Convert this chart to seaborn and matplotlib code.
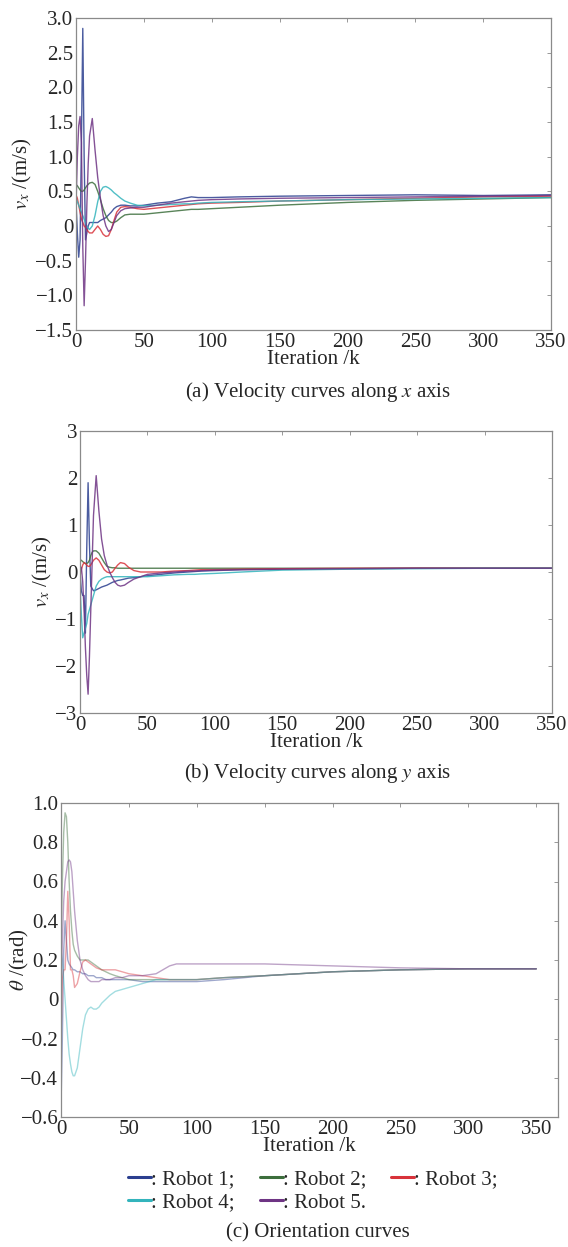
import numpy as np
import pandas as pd
import matplotlib
matplotlib.use("Agg")
import matplotlib.pyplot as plt
from matplotlib.lines import Line2D
import seaborn as sns

# ---------------- data ----------------
ROBOTS = ["Robot 1", "Robot 2", "Robot 3", "Robot 4", "Robot 5"]
COLORS = ["#2b3f8f", "#3c6e3c", "#d8323a", "#33b4bc", "#6e3484"]

K = [0, 1, 2, 3, 4, 5, 6, 7, 8, 9, 10, 12, 14, 16, 18, 20, 22, 24, 26, 28, 30,
     33, 36, 40, 45, 50, 60, 70, 80, 85, 90, 100, 120, 150, 200, 250, 300, 350]

# (a) velocity along x
VX_R1 = [0.35, -0.1, -0.45, -0.2, 1.2, 2.85, 1.0, -0.2, -0.1, 0.0, 0.05, 0.05, 0.05, 0.05, 0.08, 0.1, 0.12, 0.16, 0.2, 0.25, 0.28,
         0.3, 0.3, 0.29, 0.29, 0.3, 0.33, 0.35, 0.4, 0.42, 0.41, 0.41, 0.42, 0.43, 0.44, 0.45, 0.44, 0.45]
VX_R2 = [0.6, 0.58, 0.55, 0.52, 0.5, 0.5, 0.52, 0.55, 0.58, 0.6, 0.62, 0.63, 0.6, 0.5, 0.38, 0.25, 0.15, 0.08, 0.05, 0.05, 0.07,
         0.12, 0.16, 0.17, 0.17, 0.17, 0.19, 0.21, 0.23, 0.24, 0.24, 0.25, 0.27, 0.3, 0.34, 0.37, 0.39, 0.41]
VX_R3 = [0.45, 0.4, 0.3, 0.2, 0.1, 0.05, 0.0, -0.02, -0.05, -0.08, -0.1, -0.1, -0.05, 0.0, -0.05, -0.12, -0.15, -0.14, -0.05, 0.08, 0.2,
         0.27, 0.28, 0.27, 0.25, 0.24, 0.26, 0.28, 0.3, 0.31, 0.32, 0.33, 0.34, 0.36, 0.38, 0.4, 0.42, 0.43]
VX_R4 = [0.4, 0.35, 0.3, 0.25, 0.2, 0.15, 0.1, 0.05, 0.0, -0.03, -0.05, 0.0, 0.15, 0.35, 0.5, 0.56, 0.57, 0.55, 0.52, 0.48, 0.45,
         0.4, 0.36, 0.33, 0.3, 0.29, 0.3, 0.31, 0.32, 0.32, 0.33, 0.34, 0.35, 0.36, 0.38, 0.39, 0.4, 0.41]
VX_R5 = [0.3, 1.0, 1.45, 1.58, 1.2, -0.3, -1.15, -0.5, 0.3, 0.9, 1.3, 1.55, 1.1, 0.7, 0.4, 0.15, 0.0, -0.08, -0.05, 0.05, 0.15,
         0.22, 0.25, 0.26, 0.27, 0.27, 0.3, 0.33, 0.35, 0.36, 0.37, 0.38, 0.39, 0.4, 0.41, 0.42, 0.43, 0.44]

# (b) velocity along y
VY_R1 = [0.0, -0.4, -0.5, -0.5, -1.3, 0.5, 1.9, 0.6, -0.3, -0.35, -0.4, -0.38, -0.35, -0.32, -0.3, -0.28, -0.25, -0.22, -0.2, -0.18, -0.17,
         -0.15, -0.13, -0.12, -0.1, -0.08, -0.05, -0.02, 0.0, 0.01, 0.02, 0.03, 0.05, 0.06, 0.07, 0.08, 0.08, 0.08]
VY_R2 = [0.25, 0.25, 0.22, 0.2, 0.18, 0.18, 0.2, 0.25, 0.35, 0.42, 0.45, 0.45, 0.4, 0.3, 0.2, 0.12, 0.1, 0.09, 0.09, 0.08, 0.08,
         0.08, 0.08, 0.08, 0.08, 0.08, 0.08, 0.08, 0.08, 0.08, 0.08, 0.08, 0.08, 0.08, 0.08, 0.08, 0.08, 0.08]
VY_R3 = [-0.1, 0.05, 0.15, 0.2, 0.18, 0.15, 0.12, 0.12, 0.15, 0.2, 0.25, 0.3, 0.25, 0.15, 0.05, 0.0, -0.02, 0.0, 0.08, 0.15, 0.2,
         0.18, 0.1, 0.03, 0.0, 0.0, 0.0, 0.02, 0.03, 0.04, 0.05, 0.05, 0.06, 0.07, 0.08, 0.08, 0.08, 0.08]
VY_R4 = [-0.3, -0.9, -1.4, -1.3, -1.2, -1.1, -0.9, -0.8, -0.7, -0.6, -0.5, -0.3, -0.2, -0.15, -0.12, -0.1, -0.1, -0.1, -0.1, -0.1, -0.1,
         -0.1, -0.1, -0.1, -0.1, -0.1, -0.08, -0.06, -0.05, -0.05, -0.04, -0.03, 0.0, 0.04, 0.06, 0.07, 0.08, 0.08]
VY_R5 = [0.0, 0.1, -0.2, -0.8, -1.6, -2.2, -2.6, -1.8, -0.8, 0.2, 1.2, 2.05, 1.3, 0.7, 0.35, 0.15, 0.0, -0.12, -0.22, -0.28, -0.3,
         -0.28, -0.22, -0.15, -0.1, -0.05, -0.02, 0.0, 0.02, 0.02, 0.03, 0.04, 0.05, 0.06, 0.07, 0.08, 0.08, 0.08]

# (c) orientation
TH_R1 = [-0.55, -0.2, 0.25, 0.4, 0.3, 0.2, 0.18, 0.17, 0.16, 0.15, 0.15, 0.14, 0.14, 0.13, 0.13, 0.12, 0.12, 0.12, 0.11, 0.11, 0.11,
         0.1, 0.1, 0.1, 0.1, 0.1, 0.09, 0.09, 0.09, 0.09, 0.09, 0.09, 0.1, 0.12, 0.14, 0.15, 0.155, 0.155]
TH_R2 = [0.25, 0.6, 0.85, 0.95, 0.93, 0.8, 0.6, 0.45, 0.35, 0.28, 0.25, 0.22, 0.2, 0.2, 0.2, 0.2, 0.19, 0.18, 0.17, 0.16, 0.15,
         0.14, 0.13, 0.12, 0.11, 0.1, 0.1, 0.1, 0.1, 0.1, 0.1, 0.1, 0.11, 0.12, 0.14, 0.15, 0.155, 0.155]
TH_R3 = [-0.2, 0.1, 0.15, 0.15, 0.3, 0.55, 0.4, 0.15, 0.15, 0.12, 0.06, 0.08, 0.14, 0.19, 0.2, 0.19, 0.18, 0.17, 0.16, 0.155, 0.15,
         0.15, 0.15, 0.15, 0.14, 0.13, 0.12, 0.11, 0.1, 0.1, 0.1, 0.1, 0.11, 0.12, 0.14, 0.15, 0.155, 0.155]
TH_R4 = [0.25, 0.2, 0.1, 0.0, -0.1, -0.2, -0.28, -0.33, -0.37, -0.39, -0.39, -0.35, -0.25, -0.15, -0.08, -0.05, -0.04, -0.05, -0.05, -0.04, -0.02,
         0.0, 0.02, 0.04, 0.05, 0.06, 0.08, 0.1, 0.1, 0.1, 0.1, 0.1, 0.11, 0.12, 0.14, 0.15, 0.155, 0.155]
TH_R5 = [0.0, 0.3, 0.5, 0.6, 0.65, 0.7, 0.71, 0.7, 0.65, 0.55, 0.45, 0.3, 0.2, 0.15, 0.12, 0.1, 0.09, 0.09, 0.09, 0.09, 0.1,
         0.1, 0.1, 0.11, 0.11, 0.12, 0.12, 0.13, 0.17, 0.18, 0.18, 0.18, 0.18, 0.18, 0.17, 0.16, 0.155, 0.155]

XTICKS = [0, 50, 100, 150, 200, 250, 300, 350]
YTICKS_A = [3.0, 2.5, 2.0, 1.5, 1.0, 0.5, 0.0, -0.5, -1.0, -1.5]
YLABELS_A = ["3.0", "2.5", "2.0", "1.5", "1.0", "0.5", "0", "\u22120.5", "\u22121.0", "\u22121.5"]
YTICKS_B = [3, 2, 1, 0, -1, -2, -3]
YLABELS_B = ["3", "2", "1", "0", "\u22121", "\u22122", "\u22123"]
YTICKS_C = [1.0, 0.8, 0.6, 0.4, 0.2, 0.0, -0.2, -0.4, -0.6]
YLABELS_C = ["1.0", "0.8", "0.6", "0.4", "0.2", "0", "\u22120.2", "\u22120.4", "\u22120.6"]

# ---------------- style ----------------
sns.set_theme(style="white")
plt.rcParams["font.family"] = ["Liberation Serif", "DejaVu Serif"]
plt.rcParams["mathtext.fontset"] = "stix"

FS = 15
W, H = 568, 1247
fig = plt.figure(figsize=(W / 100, H / 100), dpi=100)


def rect(left, right, top, bottom):
    return [left / W, 1 - bottom / H, (right - left) / W, (bottom - top) / H]


def frame(series):
    rows = []
    for name, vals in zip(ROBOTS, series):
        rows.append(pd.DataFrame({"k": K, "v": vals, "Robot": name}))
    return pd.concat(rows, ignore_index=True)


def panel(ax, series, xlim, yticks, ylabels, ylabel, alpha):
    df = frame(series)
    sns.lineplot(data=df, x="k", y="v", hue="Robot", palette=COLORS, ax=ax,
                 legend=False, linewidth=1.0, alpha=alpha, estimator=None, sort=False)
    ax.set_xlim(*xlim)
    ax.set_ylim(min(yticks), max(yticks))
    ax.set_xticks(XTICKS)
    ax.set_xticklabels([str(t) for t in XTICKS], fontsize=FS)
    ax.set_yticks(yticks)
    ax.set_yticklabels(ylabels, fontsize=FS)
    ax.set_xlabel("Iteration /k", fontsize=FS, labelpad=-1)
    ax.set_ylabel(ylabel, fontsize=FS, labelpad=1)
    ax.tick_params(direction="in", length=3, width=0.6, color="#888888",
                   top=True, right=True, pad=2)
    for s in ax.spines.values():
        s.set_color("#8a8a8a")
        s.set_linewidth(0.9)


ax1 = fig.add_axes(rect(76, 551, 18, 330))
panel(ax1, [VX_R1, VX_R2, VX_R3, VX_R4, VX_R5], (0, 350), YTICKS_A, YLABELS_A,
      r"$v_x$ /(m/s)", 0.85)
ax2 = fig.add_axes(rect(80, 552, 431, 713))
panel(ax2, [VY_R1, VY_R2, VY_R3, VY_R4, VY_R5], (0, 350), YTICKS_B, YLABELS_B,
      r"$v_x$ /(m/s)", 0.85)
ax3 = fig.add_axes(rect(61, 558, 803, 1117))
panel(ax3, [TH_R1, TH_R2, TH_R3, TH_R4, TH_R5], (0, 366), YTICKS_C, YLABELS_C,
      r"$\theta$ /(rad)", 0.45)
ax3.yaxis.set_label_coords(-30 / 497, 0.5)

fig.text(318 / W, 1 - 392 / H, r"(a) Velocity curves along $x$ axis", ha="center", va="center", fontsize=FS)
fig.text(318 / W, 1 - 773 / H, r"(b) Velocity curves along $y$ axis", ha="center", va="center", fontsize=FS)
fig.text(318 / W, 1 - 1233 / H, "(c) Orientation curves", ha="center", va="center", fontsize=FS)

handles = [Line2D([], [], color=c, lw=2.2) for c in COLORS]
labels = [": Robot 1;", ": Robot 2;", ": Robot 3;", ": Robot 4;", ": Robot 5."]
order = [0, 3, 1, 4, 2]
fig.legend([handles[i] for i in order], [labels[i] for i in order],
           loc="center", bbox_to_anchor=(313 / W, 1 - 1191 / H), ncol=3, frameon=False,
           fontsize=FS, handlelength=1.1, handletextpad=0.0, columnspacing=1.2,
           labelspacing=0.2, borderpad=0)

fig.savefig("out.png", dpi=100)
